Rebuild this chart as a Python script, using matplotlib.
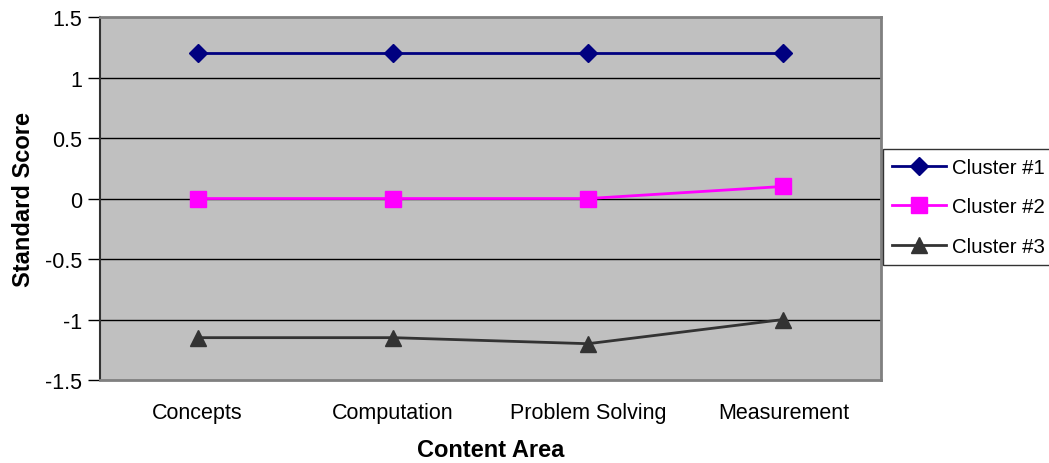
import matplotlib
matplotlib.use("Agg")
import matplotlib.pyplot as plt

plt.rcParams['font.family'] = ['Liberation Sans', 'DejaVu Sans']

areas = ["Concepts", "Computation", "Problem Solving", "Measurement"]
cluster1 = [1.2, 1.2, 1.2, 1.2]
cluster2 = [0.0, 0.0, 0.0, 0.1]
cluster3 = [-1.15, -1.15, -1.2, -1.0]
yticks = [-1.5, -1, -0.5, 0, 0.5, 1, 1.5]
ytick_labels = ["-1.5", "-1", "-0.5", "0", "0.5", "1", "1.5"]

fig = plt.figure(figsize=(10.49, 4.64), dpi=100)
ax = fig.add_axes([0.0953, 0.1789, 0.7445, 0.7821])
ax.set_facecolor("#c0c0c0")

for y in yticks[1:-1]:
    ax.axhline(y, color="black", lw=1, zorder=1)

x = range(len(areas))
ax.plot(x, cluster1, color="#000080", marker="D", ms=9.5, lw=2, label="Cluster #1", zorder=3)
ax.plot(x, cluster2, color="#ff00ff", marker="s", ms=11, lw=2, label="Cluster #2", zorder=3)
ax.plot(x, cluster3, color="#333333", marker="^", ms=12, lw=2, label="Cluster #3", zorder=3)

ax.set_xlim(-0.5, 3.5)
ax.set_ylim(-1.5, 1.5)
ax.set_xticks(list(x))
ax.set_xticklabels(areas, fontsize=15.5)
ax.set_yticks(yticks)
ax.set_yticklabels(ytick_labels, fontsize=15.5)
ax.tick_params(axis="x", length=0, pad=16)
ax.tick_params(axis="y", direction="out", length=9, width=1, color="black", pad=4)

for side in ["top", "right", "bottom"]:
    ax.spines[side].set_color("#808080")
    ax.spines[side].set_linewidth(2)
ax.spines["left"].set_color("#333333")
ax.spines["left"].set_linewidth(1.5)

ax.set_xlabel("Content Area", fontsize=17, fontweight="bold", labelpad=11)
ax.set_ylabel("Standard Score", fontsize=17, fontweight="bold", labelpad=7)

leg = ax.legend(loc="center left", bbox_to_anchor=(1.0, 0.477), fontsize=14.7,
                frameon=True, fancybox=False, edgecolor="black", handlelength=2.65,
                labelspacing=1.0, borderpad=0.45, handletextpad=0.3, borderaxespad=0.1)
leg.get_frame().set_linewidth(1)

fig.savefig("out.png", dpi=100)
